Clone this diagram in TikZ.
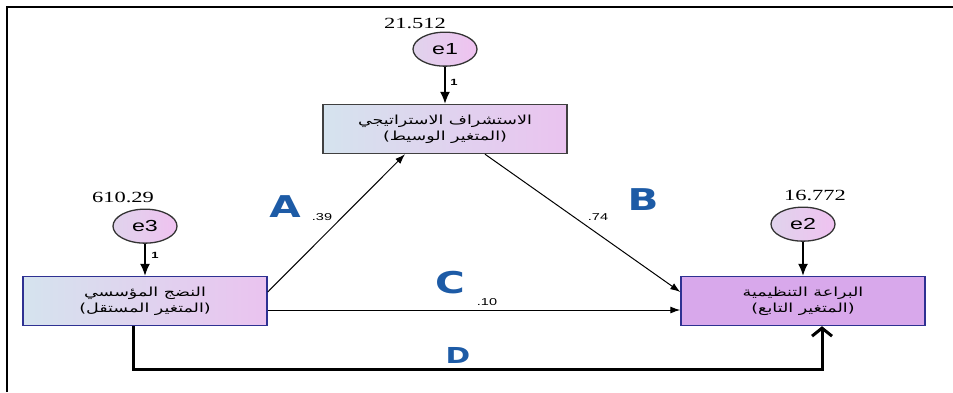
\documentclass[tikz,border=0pt]{standalone}
\usepackage{fontspec}
\setmainfont{Liberation Serif}
\newfontfamily\numfont{Liberation Serif}[FakeStretch=1.45]
\newfontfamily\labfont{Liberation Sans}[FakeStretch=1.45]
\newfontfamily\pathfont{DejaVu Sans}[FakeStretch=1.35]
\newfontfamily\arabicfont[Script=Arabic,FakeStretch=1.4]{DejaVu Sans}
\TeXXeTstate=1
\usetikzlibrary{shapes.geometric,arrows.meta,positioning}
\definecolor{boxleft}{HTML}{D5E3EE}
\definecolor{boxright}{HTML}{EAC3EF}
\definecolor{depfill}{HTML}{D8A8EB}
\definecolor{boxline}{HTML}{2E3192}
\definecolor{errleft}{HTML}{E0D3EC}
\definecolor{errright}{HTML}{EFC2F0}
\definecolor{pathblue}{HTML}{1D5BA6}
\begin{document}
\begin{tikzpicture}[x=1pt,y=-1pt,
var/.style={rectangle,draw=boxline,line width=1.4pt,minimum width=244pt,minimum height=49pt,inner sep=0pt,align=center,font=\arabicfont\fontsize{12.5}{16}\selectfont},
err/.style={ellipse,draw=black!80,line width=1.3pt,minimum width=64pt,minimum height=34pt,inner sep=0pt,left color=errleft,right color=errright,font=\labfont\fontsize{16}{16}\selectfont},
num/.style={font=\numfont\fontsize{15.5}{15.5}\selectfont},
coef/.style={font=\labfont\fontsize{10}{10}\selectfont},
one/.style={font=\labfont\bfseries\fontsize{9}{9}\selectfont},
letter/.style={text=pathblue,font=\pathfont\bfseries\fontsize{30}{30}\selectfont},
thin/.style={line width=1pt,-{Latex[length=10pt,width=7pt]}},
errarrow/.style={line width=1.6pt,-{Latex[length=12pt,width=10pt]}}
]
\useasboundingbox (0,0) rectangle (953,392);
% frame
\draw[line width=2pt] (7,392) |- (953,7);
% variables
\node[var,left color=boxleft,right color=boxright,draw=black!75] (med) at (445,129)
  {\beginR الاستشراف الاستراتيجي\endR\\\beginR (المتغير الوسيط)\endR};
\node[var,left color=boxleft,right color=boxright] (indep) at (145,301)
  {\beginR النضج المؤسسي\endR\\\beginR (المتغير المستقل)\endR};
\node[var,fill=depfill] (dep) at (803,301)
  {\beginR البراعة التنظيمية\endR\\\beginR (المتغير التابع)\endR};
% errors
\node[err,above=37pt of med] (e1) {e1};
\node[err,above=32pt of indep] (e3) {e3};
\node[err,above=34pt of dep] (e2) {e2};
\node[num] (v1) at (415,23) {21.512};
\node[num] (v3) at (123,197) {610.29};
\node[num] (v2) at (815,195) {16.772};
\draw[errarrow] (e1) -- (med);
\draw[errarrow] (e3) -- (e3 |- indep.north);
\draw[errarrow] (e2) -- (e2 |- dep.north);
\node[one] (w1) at (454,82) {1};
\node[one] (w3) at (155,255) {1};
% paths
\draw[thin] ([yshift=9pt]indep.east) -- ([xshift=-40pt]med.south);
\draw[thin] ([xshift=40pt]med.south) -- ([yshift=9pt]dep.west);
\draw[thin] ([yshift=-9pt]indep.east) -- ([yshift=-9pt]dep.west);
\draw[line width=3pt,-{Straight Barb[length=8pt,width=20pt]}]
  ([xshift=-12pt]indep.south) |- (480,369) -| ([xshift=19pt]dep.south);
\node[letter] (pa) at (285,207) {A};
\node[letter] (pb) at (643,200) {B};
\node[letter] (pc) at (450,283) {C};
\node[letter,font=\pathfont\bfseries\fontsize{22}{22}\selectfont] (pd) at (458,355) {D};
\node[coef] (ca) at (322,217) {.39};
\node[coef] (cb) at (598,217) {.74};
\node[coef] (cc) at (487,302) {.10};
\end{tikzpicture}
\end{document}
